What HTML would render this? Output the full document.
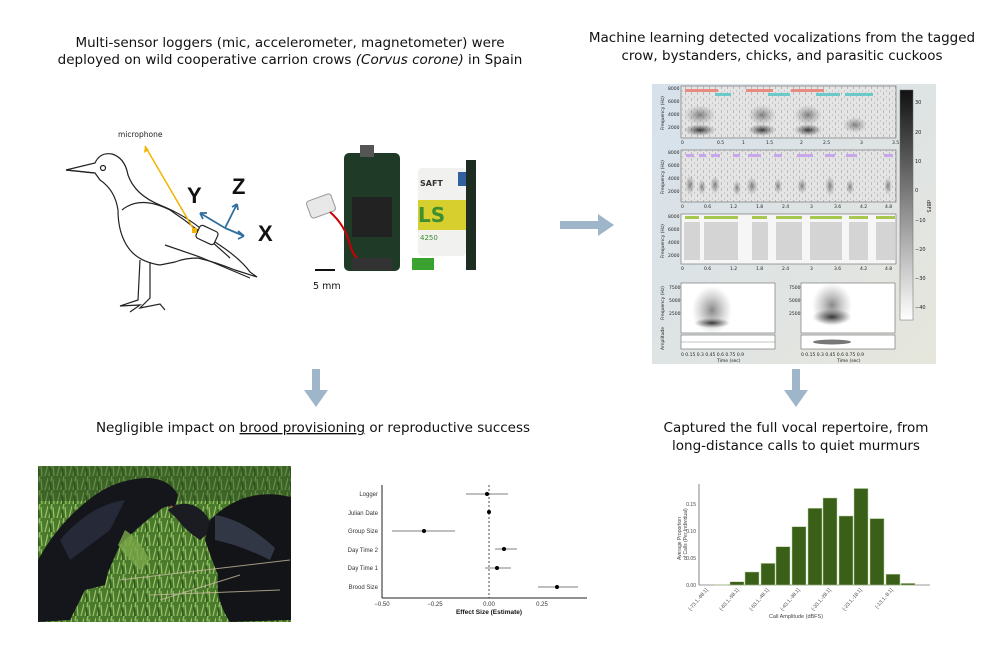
<!DOCTYPE html>
<html><head><meta charset="utf-8"><style>
html,body{margin:0;padding:0;background:#fff;}
svg{display:block;font-family:"DejaVu Sans","Liberation Sans",sans-serif;}
</style></head><body>
<svg width="997" height="663" viewBox="0 0 997 663" xmlns="http://www.w3.org/2000/svg">
<defs>
<linearGradient id="bgp" x1="0" y1="0" x2="1" y2="1"><stop offset="0" stop-color="#d6e1ec"/><stop offset="1" stop-color="#e6e6dc"/></linearGradient>
<radialGradient id="blob" cx="0.5" cy="0.5" r="0.5"><stop offset="0" stop-color="#222" stop-opacity="0.9"/><stop offset="1" stop-color="#555" stop-opacity="0"/></radialGradient>
<radialGradient id="blob2" cx="0.5" cy="0.5" r="0.5"><stop offset="0" stop-color="#555" stop-opacity="0.7"/><stop offset="1" stop-color="#888" stop-opacity="0"/></radialGradient>
<linearGradient id="cbar" x1="0" y1="0" x2="0" y2="1"><stop offset="0" stop-color="#111"/><stop offset="1" stop-color="#fff"/></linearGradient>
<pattern id="noise" width="6" height="6" patternUnits="userSpaceOnUse"><rect width="6" height="6" fill="#e4e4e4"/><rect x="1" y="2" width="1" height="3" fill="#bbb"/><rect x="4" y="0" width="1" height="2" fill="#c8c8c8"/></pattern>
<pattern id="grass" width="12" height="14" patternUnits="userSpaceOnUse"><rect width="12" height="14" fill="#4a7a2c"/><path d="M1 14 L4 0 M6 14 L5 3 M9 14 L12 2" stroke="#9cc46a" stroke-width="1.2"/><path d="M3 14 L2 5" stroke="#2f5a1c" stroke-width="1.5"/></pattern>
</defs>

<g font-size="13.5" fill="#111" text-anchor="middle">
<text x="290" y="47">Multi-sensor loggers (mic, accelerometer, magnetometer) were</text>
<text x="290" y="64">deployed on wild cooperative carrion crows <tspan font-style="italic">(Corvus corone)</tspan> in Spain</text>
<text x="782" y="42">Machine learning detected vocalizations from the tagged</text>
<text x="782" y="60">crow, bystanders, chicks, and parasitic cuckoos</text>
<text x="313" y="432">Negligible impact on <tspan text-decoration="underline">brood provisioning</tspan> or reproductive success</text>
<text x="796" y="432">Captured the full vocal repertoire, from</text>
<text x="796" y="450">long-distance calls to quiet murmurs</text>
</g>

<!-- crow drawing -->
<g fill="none" stroke="#222" stroke-width="1.2">
<path d="M66 170 L95 163 Q100 152 112 154 Q125 158 128 175 Q135 195 160 205 Q185 215 205 232 L215 242 Q240 258 250 272 L257 277 L235 270 Q215 262 198 258 Q185 258 175 262 L160 265 Q140 262 130 250 Q118 235 118 210 Q115 190 100 180 L95 173 Z"/>
<path d="M66 170 L94 173"/>
<circle cx="103" cy="168" r="2.5"/>
<path d="M122 210 Q140 195 170 210 Q200 230 230 258"/>
<path d="M165 245 L200 257 L250 278"/>
<path d="M140 260 L138 300 L120 306 L140 305 L130 312 M150 262 L150 298 L140 308 L160 304 L165 310"/>
</g>
<rect x="197" y="228" width="20" height="14" rx="3" fill="#fff" stroke="#222" stroke-width="1.2" transform="rotate(25 207 235)"/>
<rect x="192" y="228" width="5" height="5" fill="#f2b400"/>
<line x1="194" y1="230" x2="145" y2="146" stroke="#f2b400" stroke-width="1.5"/>
<path d="M145 146 l-1 7 l5 -3 z" fill="#f2b400"/>
<text x="118" y="137" font-size="7.5" fill="#222">microphone</text>
<g stroke="#2f6f9f" stroke-width="1.8" fill="none">
<path d="M225 228 L200 213 M200 213 l3 6 M200 213 l7 0"/>
<path d="M225 228 L237 204 M237 204 l-5 3 M237 204 l1 6"/>
<path d="M225 228 L244 236 M244 236 l-6 -5 M244 236 l-6 3"/>
</g>
<g font-family="Liberation Sans,sans-serif" font-weight="bold" font-size="22" fill="#111">
<text x="187" y="203">Y</text><text x="232" y="194">Z</text><text x="258" y="241">X</text>
</g>

<!-- logger photo -->
<rect x="344" y="153" width="56" height="118" rx="5" fill="#1f3a26"/>
<rect x="352" y="197" width="40" height="40" fill="#222"/>
<rect x="360" y="145" width="14" height="12" fill="#555"/>
<rect x="308" y="197" width="26" height="18" rx="3" fill="#e8e8e8" stroke="#999" transform="rotate(-20 321 206)"/>
<path d="M330 212 Q345 225 350 245 Q355 262 370 265" stroke="#c00" stroke-width="2" fill="none"/>
<rect x="352" y="258" width="40" height="12" fill="#333"/>
<rect x="418" y="168" width="48" height="88" rx="4" fill="#f1f1ef"/>
<rect x="418" y="200" width="48" height="30" fill="#d7cf2d"/>
<text x="420" y="186" font-size="8" font-weight="bold" fill="#333">SAFT</text>
<text x="418" y="222" font-size="20" font-weight="bold" fill="#3d8f2f">LS</text>
<text x="420" y="240" font-size="7" fill="#3d8f2f">4250</text>
<rect x="458" y="172" width="15" height="14" fill="#3060a0"/>
<rect x="466" y="160" width="10" height="110" fill="#1d2d22"/>
<rect x="412" y="258" width="22" height="12" fill="#3aa330"/>
<line x1="315" y1="270" x2="335" y2="270" stroke="#111" stroke-width="2"/>
<text x="313" y="289" font-size="9.5" fill="#111">5 mm</text>

<!-- arrows -->
<path d="M560 221 L598 221 L598 214 L614 225 L598 236 L598 229 L560 229 Z" fill="#9fb5ca"/>
<path d="M312 369 L320 369 L320 390 L328 390 L316 407 L304 390 L312 390 Z" fill="#9fb5ca"/>
<path d="M792 369 L800 369 L800 390 L808 390 L796 407 L784 390 L792 390 Z" fill="#9fb5ca"/>

<!-- spectrogram figure -->
<rect x="652" y="84" width="284" height="280" fill="url(#bgp)"/>
<g font-size="5" fill="#222">
<rect x="681" y="86" width="215" height="52" fill="url(#noise)" stroke="#666" stroke-width="0.6"/>
<ellipse cx="700" cy="130" rx="16" ry="6" fill="url(#blob)"/><ellipse cx="700" cy="115" rx="16" ry="10" fill="url(#blob2)"/>
<ellipse cx="762" cy="130" rx="14" ry="6" fill="url(#blob)"/><ellipse cx="762" cy="115" rx="14" ry="10" fill="url(#blob2)"/>
<ellipse cx="808" cy="130" rx="14" ry="6" fill="url(#blob)"/><ellipse cx="808" cy="115" rx="14" ry="10" fill="url(#blob2)"/>
<ellipse cx="855" cy="125" rx="12" ry="8" fill="url(#blob2)"/>
<rect x="685" y="89" width="33" height="3" fill="#e98c80"/><rect x="746" y="89" width="27" height="3" fill="#e98c80"/><rect x="791" y="89" width="33" height="3" fill="#e98c80"/>
<rect x="715" y="93" width="16" height="3" fill="#6cc9c9"/><rect x="768" y="93" width="22" height="3" fill="#6cc9c9"/><rect x="816" y="93" width="24" height="3" fill="#6cc9c9"/><rect x="845" y="93" width="28" height="3" fill="#6cc9c9"/>
<rect x="681" y="150" width="215" height="52" fill="url(#noise)" stroke="#666" stroke-width="0.6"/>
<g fill="#c7a6ee"><rect x="686" y="154" width="8" height="3"/><rect x="699" y="154" width="7" height="3"/><rect x="711" y="154" width="9" height="3"/><rect x="733" y="154" width="7" height="3"/><rect x="748" y="154" width="13" height="3"/><rect x="774" y="154" width="8" height="3"/><rect x="797" y="154" width="16" height="3"/><rect x="825" y="154" width="10" height="3"/><rect x="846" y="154" width="11" height="3"/><rect x="884" y="154" width="9" height="3"/></g>
<g fill="url(#blob2)"><ellipse cx="690" cy="185" rx="5" ry="10"/><ellipse cx="702" cy="187" rx="4" ry="8"/><ellipse cx="715" cy="185" rx="5" ry="9"/><ellipse cx="737" cy="188" rx="4" ry="8"/><ellipse cx="752" cy="186" rx="6" ry="9"/><ellipse cx="778" cy="186" rx="4" ry="8"/><ellipse cx="802" cy="186" rx="5" ry="8"/><ellipse cx="830" cy="186" rx="5" ry="10"/><ellipse cx="850" cy="187" rx="4" ry="8"/><ellipse cx="888" cy="186" rx="4" ry="9"/></g>
<rect x="681" y="214" width="215" height="50" fill="#f6f6f6" stroke="#666" stroke-width="0.6"/>
<g fill="#a6c84e"><rect x="685" y="216" width="14" height="3"/><rect x="704" y="216" width="34" height="3"/><rect x="752" y="216" width="15" height="3"/><rect x="776" y="216" width="26" height="3"/><rect x="810" y="216" width="32" height="3"/><rect x="849" y="216" width="19" height="3"/><rect x="876" y="216" width="19" height="3"/></g>
<g fill="#ccc" opacity="0.8"><rect x="684" y="222" width="16" height="38"/><rect x="704" y="222" width="34" height="38"/><rect x="752" y="222" width="16" height="38"/><rect x="776" y="222" width="26" height="38"/><rect x="810" y="222" width="32" height="38"/><rect x="849" y="222" width="19" height="38"/><rect x="876" y="222" width="19" height="38"/></g>
<rect x="681" y="283" width="94" height="50" fill="#fff" stroke="#666" stroke-width="0.6"/>
<ellipse cx="712" cy="310" rx="20" ry="24" fill="url(#blob2)"/><ellipse cx="712" cy="323" rx="18" ry="5" fill="url(#blob)"/>
<rect x="801" y="283" width="94" height="50" fill="#fff" stroke="#666" stroke-width="0.6"/>
<ellipse cx="832" cy="305" rx="20" ry="22" fill="url(#blob2)"/><ellipse cx="832" cy="317" rx="20" ry="8" fill="url(#blob)"/>
<rect x="681" y="335" width="94" height="14" fill="#fff" stroke="#666" stroke-width="0.6"/><line x1="681" y1="342" x2="775" y2="342" stroke="#888" stroke-width="0.5"/>
<rect x="801" y="335" width="94" height="14" fill="#fff" stroke="#666" stroke-width="0.6"/><ellipse cx="832" cy="342" rx="19" ry="2.5" fill="#777"/>
<rect x="900" y="90" width="13" height="230" fill="url(#cbar)" stroke="#666" stroke-width="0.5"/>
<text x="915" y="104">30</text><text x="915" y="134">20</text><text x="915" y="163">10</text><text x="915" y="192">0</text><text x="915" y="222">−10</text><text x="915" y="251">−20</text><text x="915" y="280">−30</text><text x="915" y="309">−40</text>
<text x="927" y="200" transform="rotate(90 927 200)">dBFS</text>
<g font-size="4.5"><text x="668" y="90">8000</text><text x="668" y="103">6000</text><text x="668" y="116">4000</text><text x="668" y="129">2000</text>
<text x="668" y="154">8000</text><text x="668" y="167">6000</text><text x="668" y="180">4000</text><text x="668" y="193">2000</text>
<text x="668" y="218">8000</text><text x="668" y="231">6000</text><text x="668" y="244">4000</text><text x="668" y="257">2000</text>
<text x="681" y="144">0</text><text x="717" y="144">0.5</text><text x="742" y="144">1</text><text x="766" y="144">1.5</text><text x="800" y="144">2</text><text x="823" y="144">2.5</text><text x="860" y="144">3</text><text x="892" y="144">3.5</text>
<text x="681" y="208">0</text><text x="704" y="208">0.6</text><text x="730" y="208">1.2</text><text x="756" y="208">1.8</text><text x="782" y="208">2.4</text><text x="810" y="208">3</text><text x="834" y="208">3.6</text><text x="860" y="208">4.2</text><text x="885" y="208">4.8</text>
<text x="681" y="270">0</text><text x="704" y="270">0.6</text><text x="730" y="270">1.2</text><text x="756" y="270">1.8</text><text x="782" y="270">2.4</text><text x="810" y="270">3</text><text x="834" y="270">3.6</text><text x="860" y="270">4.2</text><text x="885" y="270">4.8</text>
<text x="669" y="289">7500</text><text x="669" y="302">5000</text><text x="669" y="315">2500</text>
<text x="789" y="289">7500</text><text x="789" y="302">5000</text><text x="789" y="315">2500</text>
<text x="681" y="356">0  0.15  0.3  0.45  0.6  0.75  0.9</text><text x="801" y="356">0  0.15  0.3  0.45  0.6  0.75  0.9</text>
<text x="717" y="362">Time (sec)</text><text x="837" y="362">Time (sec)</text></g>
<g font-size="4.5"><text transform="translate(664 130) rotate(-90)">Frequency (Hz)</text><text transform="translate(664 194) rotate(-90)">Frequency (Hz)</text><text transform="translate(664 258) rotate(-90)">Frequency (Hz)</text><text transform="translate(664 320) rotate(-90)">Frequency (Hz)</text><text transform="translate(664 350) rotate(-90)">Amplitude</text></g>
</g>

<!-- crow photo -->
<rect x="38" y="466" width="253" height="156" fill="url(#grass)"/>
<rect x="38" y="466" width="253" height="35" fill="#2d4a1e" opacity="0.45"/>
<!-- left adult crow -->
<path d="M38 560 Q60 520 95 495 Q120 478 150 478 Q170 480 178 495 L175 507 Q165 505 160 510 Q140 525 120 545 L108 572 L105 585 L85 590 L70 620 L38 622 Z" fill="#14161c"/>
<path d="M60 540 Q90 505 125 500 L110 530 Q90 545 70 560 Z" fill="#2a3040" opacity="0.8"/>
<path d="M170 505 L178 508 L176 512 Z" fill="#d33"/>
<!-- chick -->
<path d="M168 510 Q180 500 195 506 Q210 514 212 530 L200 540 Q185 530 178 520 Z" fill="#1a1c22"/>
<!-- right crow -->
<path d="M210 520 Q240 490 280 495 L291 497 L291 620 L230 622 Q215 600 218 575 Q210 555 205 540 Z" fill="#121418"/>
<path d="M215 515 Q245 520 275 548 L270 560 Q240 545 215 540 Z" fill="#3a4050" opacity="0.8"/>
<path d="M120 580 L290 560 M150 595 L280 590 M160 600 L240 575" stroke="#c8bca0" stroke-width="1" opacity="0.8"/>
<path d="M125 530 Q140 540 150 560 L140 570 Q125 555 118 545 Z" fill="#7aa84a" opacity="0.8"/>

<!-- forest plot -->
<g font-family="Liberation Sans,sans-serif" font-size="6" fill="#333">
<line x1="382" y1="485" x2="382" y2="598" stroke="#222" stroke-width="1"/>
<line x1="382" y1="598" x2="587" y2="598" stroke="#222" stroke-width="1"/>
<line x1="489" y1="485" x2="489" y2="598" stroke="#222" stroke-width="0.8" stroke-dasharray="2,2"/>
<g text-anchor="end"><text x="378" y="496">Logger</text><text x="378" y="515">Julian Date</text><text x="378" y="533">Group Size</text><text x="378" y="552">Day Time 2</text><text x="378" y="570">Day Time 1</text><text x="378" y="589">Brood Size</text></g>
<g stroke="#555" stroke-width="0.8">
<line x1="466" y1="494" x2="508" y2="494"/><line x1="487" y1="512" x2="491" y2="512"/><line x1="392" y1="531" x2="455" y2="531"/><line x1="495" y1="549" x2="517" y2="549"/><line x1="485" y1="568" x2="511" y2="568"/><line x1="538" y1="587" x2="578" y2="587"/>
</g>
<g fill="#000"><circle cx="487" cy="494" r="2"/><circle cx="489" cy="512" r="2"/><circle cx="424" cy="531" r="2"/><circle cx="504" cy="549" r="2"/><circle cx="497" cy="568" r="2"/><circle cx="557" cy="587" r="2"/></g>
<g text-anchor="middle"><text x="382" y="606">−0.50</text><text x="435" y="606">−0.25</text><text x="489" y="606">0.00</text><text x="542" y="606">0.25</text></g>
<text x="489" y="614" text-anchor="middle" font-weight="bold" font-size="6.5" fill="#111">Effect Size (Estimate)</text>
</g>

<!-- histogram -->
<g font-family="Liberation Sans,sans-serif" font-size="5" fill="#444">
<line x1="699" y1="484" x2="699" y2="585" stroke="#333" stroke-width="0.6"/>
<line x1="699" y1="585" x2="930" y2="585" stroke="#333" stroke-width="0.6"/>
<g text-anchor="end"><text x="696" y="587">0.00</text><text x="696" y="560">0.05</text><text x="696" y="533">0.10</text><text x="696" y="506">0.15</text></g>
<g fill="#3a5f18" stroke="#b8d0a0" stroke-width="0.5">
<rect x="714" y="584.5" width="14" height="0.5"/><rect x="730" y="581.8" width="14" height="3.2"/><rect x="745" y="572" width="14" height="13"/><rect x="761" y="563.4" width="14" height="21.6"/><rect x="776" y="546.7" width="14" height="38.3"/><rect x="792" y="526.7" width="14" height="58.3"/><rect x="808" y="508.3" width="14" height="76.7"/><rect x="823" y="498" width="14" height="87"/><rect x="839" y="516" width="14" height="69"/><rect x="854" y="488.5" width="14" height="96.5"/><rect x="870" y="518.6" width="14" height="66.4"/><rect x="886" y="574.2" width="14" height="10.8"/><rect x="901" y="583.4" width="14" height="1.6"/>
</g>
<text transform="translate(681 560) rotate(-90)" text-anchor="start">Average Proportion</text>
<text transform="translate(687 560) rotate(-90)" text-anchor="start">of Calls (Per Individual)</text>
<g text-anchor="end"><text transform="translate(708 590) rotate(-50)">(-73.1,-68.1]</text><text transform="translate(739 590) rotate(-50)">(-63.1,-58.1]</text><text transform="translate(769 590) rotate(-50)">(-53.1,-48.1]</text><text transform="translate(800 590) rotate(-50)">(-43.1,-38.1]</text><text transform="translate(831 590) rotate(-50)">(-33.1,-28.1]</text><text transform="translate(862 590) rotate(-50)">(-23.1,-18.1]</text><text transform="translate(893 590) rotate(-50)">(-13.1,-8.1]</text></g>
<text x="796" y="618" text-anchor="middle" font-size="5.5">Call Amplitude (dBFS)</text>
</g>
</svg>
</body></html>
